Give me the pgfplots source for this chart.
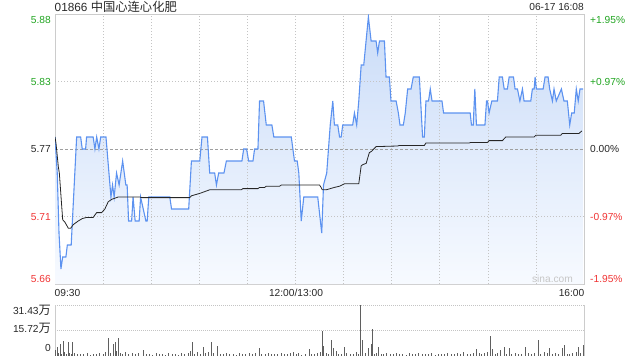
\documentclass[border=0pt]{standalone}
\usepackage{fontspec}
\setmainfont{Liberation Sans}
\newfontfamily\cjk{Noto Sans CJK SC}
\usepackage{pgfplots}
\pgfplotsset{compat=1.18}
\usepackage{pgfplotstable}
\definecolor{priceblue}{RGB}{92,146,240}
\definecolor{upgreen}{RGB}{34,165,34}
\definecolor{downred}{RGB}{240,52,52}
\definecolor{framegray}{RGB}{204,204,204}
\definecolor{gridgray}{RGB}{196,196,196}
\definecolor{filltop}{RGB}{202,220,248}
\definecolor{fillbot}{RGB}{247,250,255}
\definecolor{volgray}{RGB}{95,95,95}
\definecolor{txt}{RGB}{40,40,40}

\pgfplotstableread{
t p
0 5.78
1.4 5.75
2.5 5.70
3.7 5.67
4.8 5.68
6.8 5.68
7.7 5.69
10.1 5.69
13.5 5.78
16.0 5.78
17.0 5.77
19.1 5.77
19.7 5.78
23.8 5.78
24.9 5.77
26.0 5.78
27.4 5.77
28.5 5.78
31.8 5.78
34.9 5.73
35.9 5.74
36.9 5.73
38.4 5.75
40.0 5.74
42.2 5.76
44.2 5.74
45.0 5.74
45.9 5.71
47.8 5.71
48.7 5.73
50.0 5.71
52.5 5.71
53.4 5.73
56.7 5.71
57.5 5.71
58.5 5.73
71.6 5.73
72.7 5.72
83.4 5.72
85.1 5.76
90.3 5.76
91.7 5.78
95.1 5.78
96.5 5.75
99.6 5.75
100.7 5.74
102.1 5.75
105.4 5.75
106.9 5.76
116.6 5.76
117.7 5.77
119.5 5.77
120.8 5.76
123.5 5.76
124.5 5.77
126.6 5.77
127.6 5.81
130.1 5.81
131.8 5.79
135.3 5.79
136.5 5.78
147.4 5.78
149.4 5.76
151.1 5.76
152.1 5.75
153.6 5.71
155.2 5.73
163.9 5.73
166.4 5.70
167.5 5.74
169.5 5.75
171.7 5.79
173.3 5.81
174.3 5.79
176.4 5.79
177.5 5.78
178.5 5.78
179.5 5.79
185.7 5.79
186.8 5.80
188.2 5.79
189.5 5.81
191.0 5.84
192.6 5.84
195.5 5.88
197.2 5.86
200.3 5.86
201.3 5.85
202.4 5.86
205.5 5.86
206.5 5.83
208.6 5.83
209.6 5.81
212.8 5.81
214.2 5.80
215.2 5.79
217.3 5.79
218.5 5.80
220.0 5.82
222.1 5.82
223.5 5.83
227.3 5.83
229.3 5.78
230.4 5.78
231.4 5.81
233.0 5.81
234.1 5.82
235.2 5.81
241.4 5.81
242.4 5.80
259.0 5.80
259.8 5.79
260.9 5.79
261.9 5.82
262.9 5.79
268.2 5.79
269.2 5.81
269.8 5.81
270.8 5.80
272.5 5.81
276.0 5.81
277.1 5.83
279.1 5.83
280.2 5.82
282.2 5.82
283.3 5.83
286.0 5.83
287.0 5.82
288.5 5.82
290.0 5.81
291.6 5.82
292.6 5.81
296.8 5.81
297.8 5.82
298.9 5.82
299.5 5.83
300.3 5.82
304.5 5.82
305.7 5.83
307.6 5.83
308.6 5.82
310.3 5.81
311.3 5.82
312.7 5.81
315.9 5.82
317.5 5.81
319.6 5.81
321.1 5.79
322.3 5.80
323.9 5.80
325.2 5.82
326.4 5.81
327.5 5.82
329.4 5.82
}\price

\pgfplotstableread{
t a
0 5.780
0.6 5.775
2.1 5.755
2.7 5.750
4.8 5.711
6.2 5.709
8.3 5.704
9.8 5.704
11.4 5.707
14.5 5.710
17.0 5.712
19.7 5.713
23.8 5.713
26.0 5.717
29.1 5.717
31.1 5.720
33.2 5.726
35.3 5.728
39.4 5.730
52.9 5.730
54.2 5.7295
84.1 5.7295
85.1 5.731
90.3 5.733
96.5 5.736
116.2 5.736
117.2 5.737
126.6 5.737
127.6 5.738
130.8 5.738
131.8 5.739
140.1 5.739
141.2 5.740
165.0 5.740
166.0 5.738
166.7 5.736
169.2 5.736
174.3 5.738
177.5 5.739
180.6 5.741
189.5 5.741
191.0 5.756
192.0 5.757
194.1 5.758
196.1 5.767
197.4 5.768
200.3 5.772
213.7 5.7725
214.8 5.773
230.4 5.773
231.4 5.775
258.4 5.775
259.5 5.7755
269.8 5.7755
270.8 5.777
279.1 5.777
281.2 5.780
298.9 5.780
300.0 5.7815
315.5 5.7815
316.5 5.783
326.9 5.783
328.6 5.785
}\avgp

\pgfplotstableread{
t v
0 3.5
1.4 5.0
2 1.5
3.1 7.1
4 1.2
5.2 9.3
6 2.0
7 1.0
8.3 8.6
9 1.5
10 0.8
11 8.2
12 1.3
14 0.9
16 1.1
18 0.7
20 1.4
22 0.6
24 1.2
26 0.9
28 1.6
30 0.8
31.5 2.3
33.2 10.8
34.5 1.8
36.3 7.1
37.4 8.2
38.5 2.5
39.4 11.0
40.5 1.6
42 1.0
44 2.0
46 0.7
48 1.3
50 0.9
52 1.7
55 3.2
57 0.8
59 1.2
61 0.6
63 1.5
65 0.9
67 1.1
69 0.5
71 1.4
73 0.8
75 1.0
77 0.6
79 1.3
81 0.9
83 1.8
84.5 2.5
85.7 8.6
87 1.2
89 2.2
90.5 1.0
92.3 5.0
94 1.6
96 2.4
97.6 8.6
99 1.3
101.1 6.0
103 1.1
105 0.7
107 1.5
109 0.9
111 1.2
113 0.6
115 1.4
117 0.8
119 1.0
121 1.7
123 0.9
125 1.3
127.6 4.5
129 1.1
131 0.8
133 1.5
135 0.7
137 1.2
139 0.9
141 1.6
143 0.8
145 1.1
147 1.4
149 2.0
150.5 0.8
152 1.3
154 0.6
156 1.0
158.8 3.9
160 1.2
162 0.9
164 1.8
165.5 2.2
167 15.3
167.7 6.0
169 1.4
170.5 1.0
172.3 9.7
173.9 4.5
175.4 2.8
177 1.2
178.5 0.9
180.4 5.4
182 1.5
184 0.8
186 1.2
188 2.0
189.5 1.0
190.7 31.43
192 9.7
193.5 1.3
195.5 4.5
197.2 7.1
197.8 16.2
199 1.0
200.5 1.6
201.9 5.4
203.5 1.2
205 0.8
207 1.3
209 0.7
211 1.1
213 1.4
215 0.9
217 1.2
219 0.6
221 1.5
223 0.8
225 1.0
227 1.3
229 0.7
231 1.1
233 0.9
235 1.4
237 0.6
239 1.2
241 0.8
243 1.0
245 1.5
247 0.7
249 1.1
251 1.3
253 0.8
255 2.2
257 1.0
259 1.2
261 1.7
262.9 3.9
264.5 1.3
266 0.9
268 1.4
270 2.0
271.7 11.9
272.9 3.9
274.5 1.1
276 1.5
278.1 3.2
280.2 5.0
281.5 1.2
283.3 4.5
285 1.0
287 1.4
289 0.8
291 1.2
293.7 5.4
295.5 1.3
297 0.9
299 1.6
301.5 9.7
303 1.1
305 2.2
307 1.4
308.2 4.5
310 1.0
312 1.8
314 0.9
316.5 4.5
318 6.5
319.5 1.2
321 0.9
323 1.5
325 2.0
326.5 5.4
328 1.6
329.4 6.5
}\vol

\begin{document}
\begin{tikzpicture}[font=\fontsize{10.2}{12}\selectfont]
\path[use as bounding box] (0pt,0pt) rectangle (640pt,360pt);
% main price axis
\begin{axis}[at={(55pt,76pt)}, anchor=south west, scale only axis,
  width=529pt, height=270pt,
  xmin=0, xmax=330, ymin=5.6575, ymax=5.8825,
  xtick=\empty, ytick=\empty,
  axis line style={framegray, line width=0.9pt}]
\addplot[draw=none, top color=filltop, bottom color=fillbot] table[x=t,y=p] {\price} -- (axis cs:329.4,5.6575) -- (axis cs:0,5.6575) -- cycle;
\foreach \gx in {30,60,...,300} {
  \edef\tmp{\noexpand\draw[gridgray, line width=0.6pt, dash pattern=on 1pt off 2pt] (axis cs:\gx,5.6575) -- (axis cs:\gx,5.8825);}\tmp
}
\draw[gridgray, line width=0.6pt, dash pattern=on 1pt off 2pt] (axis cs:0,5.71375) -- (axis cs:330,5.71375);
\draw[gridgray, line width=0.6pt, dash pattern=on 1pt off 2pt] (axis cs:0,5.82625) -- (axis cs:330,5.82625);
\draw[gray!75, line width=0.6pt, dash pattern=on 2.5pt off 2.5pt] (axis cs:0,5.77) -- (axis cs:330,5.77);
\addplot[priceblue, line width=1.1pt, mark=none] table[x=t,y=p] {\price};
\addplot[black!85, line width=0.8pt, mark=none] table[x=t,y=a] {\avgp};
\end{axis}
% volume axis
\begin{axis}[at={(55pt,4.5pt)}, anchor=south west, scale only axis,
  width=529pt, height=50.5pt,
  xmin=0, xmax=330, ymin=0, ymax=31.43,
  xtick=\empty, ytick=\empty,
  axis line style={draw=none}, clip=false]
\draw[gridgray, line width=0.7pt, dash pattern=on 1pt off 1pt] (axis cs:0,15.72) -- (axis cs:330,15.72);
\draw[gridgray, line width=0.7pt, dash pattern=on 1pt off 1pt] (axis cs:0,31.43) -- (axis cs:330,31.43);
\draw[framegray, line width=0.9pt] (rel axis cs:0,0) -- (rel axis cs:0,1);
\draw[framegray, line width=0.9pt] (rel axis cs:1,0) -- (rel axis cs:1,1);
\addplot[ycomb, volgray, line width=0.8pt, mark=none] table[x=t,y=v] {\vol};
\end{axis}
% texts
\node[anchor=west, inner sep=0, txt] at (54.5pt,353pt) {\fontsize{11.8}{13}\selectfont 01866 {\cjk\fontsize{12.3}{14}\selectfont 中国心连心化肥}};
\node[anchor=east, inner sep=0, txt] at (584pt,353pt) {06-17 16:08};
\node[anchor=east, inner sep=0, upgreen] at (51pt,340pt) {5.88};
\node[anchor=east, inner sep=0, upgreen] at (51pt,277.7pt) {5.83};
\node[anchor=east, inner sep=0, txt] at (51pt,210.7pt) {5.77};
\node[anchor=east, inner sep=0, downred] at (51pt,142.7pt) {5.71};
\node[anchor=east, inner sep=0, downred] at (51pt,81.3pt) {5.66};
\node[anchor=west, inner sep=0, upgreen] at (590pt,340pt) {+1.95\%};
\node[anchor=west, inner sep=0, upgreen] at (590pt,277.7pt) {+0.97\%};
\node[anchor=west, inner sep=0, txt] at (590pt,210.7pt) {0.00\%};
\node[anchor=west, inner sep=0, downred] at (590pt,142.7pt) {-0.97\%};
\node[anchor=west, inner sep=0, downred] at (590pt,81.3pt) {-1.95\%};
\node[anchor=west, inner sep=0, txt] at (54.5pt,67pt) {09:30};
\node[inner sep=0, txt] at (296pt,67pt) {12:00/13:00};
\node[anchor=east, inner sep=0, txt] at (584.5pt,67pt) {16:00};
\node[anchor=east, inner sep=0, txt] at (51pt,50pt) {31.43{\cjk\fontsize{12.2}{13}\selectfont 万}};
\node[anchor=east, inner sep=0, txt] at (51pt,31.7pt) {15.72{\cjk\fontsize{12.2}{13}\selectfont 万}};
\node[anchor=east, inner sep=0, txt] at (51pt,11.7pt) {0};
\node[inner sep=0, black!22] at (552.5pt,80.7pt) {sina.com};
\end{tikzpicture}
\end{document}
